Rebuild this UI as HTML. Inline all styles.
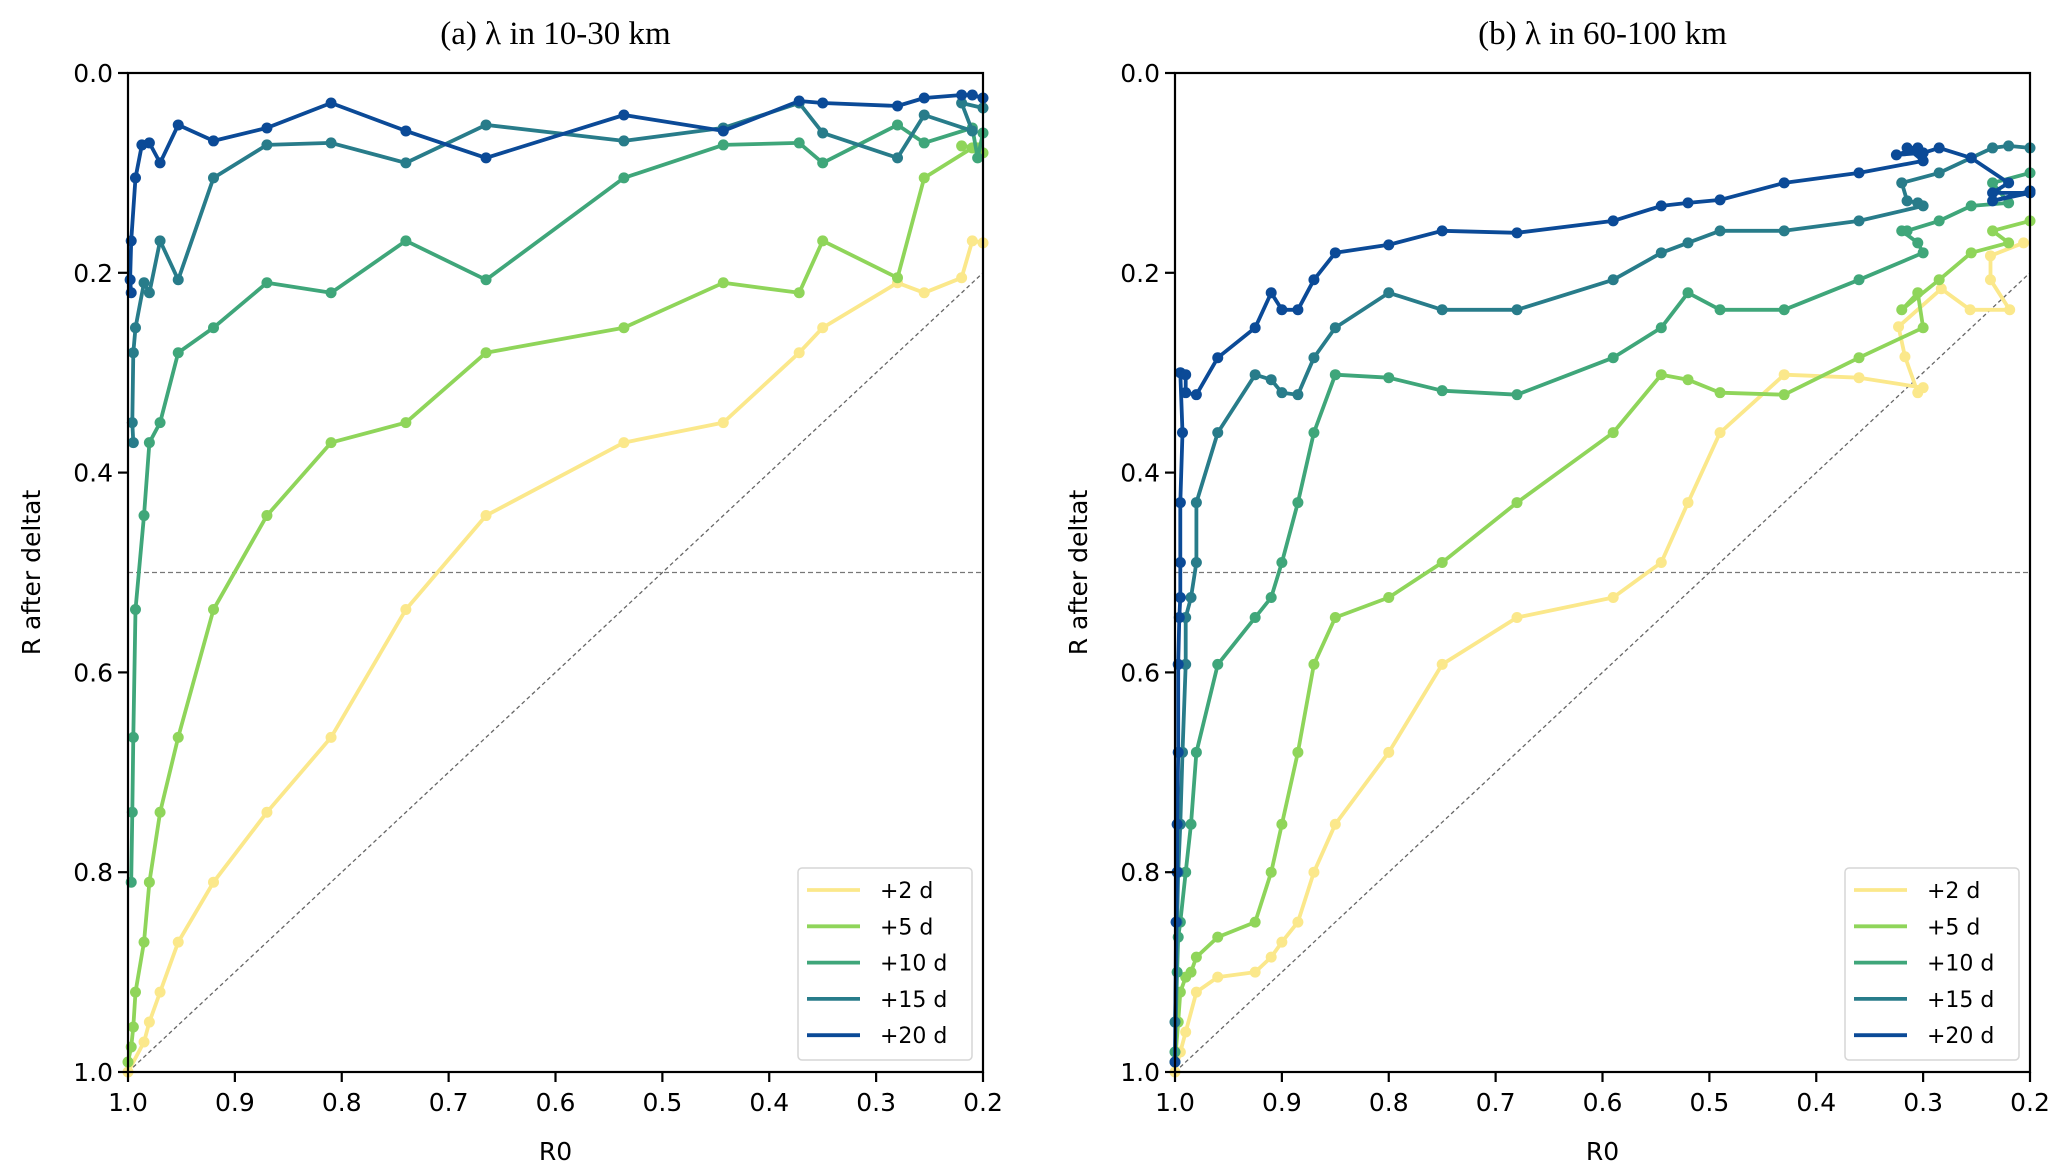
<!DOCTYPE html>
<html><head><meta charset="utf-8"><style>
html,body{margin:0;padding:0;background:#fff;}
svg{display:block;font-family:"DejaVu Sans","Liberation Sans",sans-serif;}
</style></head><body>
<svg id="chart" width="2067" height="1176" viewBox="0 0 2067 1176" xmlns="http://www.w3.org/2000/svg"></svg>
<script>
const seriesNames = ["+2 d","+5 d","+10 d","+15 d","+20 d"];
const xTicks = [1.0,0.9,0.8,0.7,0.6,0.5,0.4,0.3,0.2];
const yTicks = [0.0,0.2,0.4,0.6,0.8,1.0];
const panelTitles = ["(a) \u03bb in 10-30 km","(b) \u03bb in 60-100 km"];
// panel a
const a2 = [[1.0,1.0],[0.985,0.97],[0.98,0.95],[0.97,0.92],[0.953,0.87],[0.92,0.81],[0.87,0.74],[0.81,0.665],[0.74,0.537],[0.665,0.443],[0.536,0.37],[0.443,0.35],[0.372,0.28],[0.35,0.255],[0.28,0.21],[0.255,0.22],[0.22,0.205],[0.21,0.168],[0.2,0.17]];
const a5 = [[1.0,0.99],[0.997,0.975],[0.995,0.955],[0.993,0.92],[0.985,0.87],[0.98,0.81],[0.97,0.74],[0.953,0.665],[0.92,0.537],[0.87,0.443],[0.81,0.37],[0.74,0.35],[0.665,0.28],[0.536,0.255],[0.443,0.21],[0.372,0.22],[0.35,0.168],[0.28,0.205],[0.255,0.105],[0.21,0.075],[0.22,0.073],[0.205,0.075],[0.2,0.08]];
const a10 = [[0.997,0.81],[0.996,0.74],[0.995,0.665],[0.993,0.537],[0.985,0.443],[0.98,0.37],[0.97,0.35],[0.953,0.28],[0.92,0.255],[0.87,0.21],[0.81,0.22],[0.74,0.168],[0.665,0.207],[0.536,0.105],[0.443,0.072],[0.372,0.07],[0.35,0.09],[0.28,0.052],[0.255,0.07],[0.21,0.055],[0.205,0.085],[0.2,0.06]];
const a15 = [[0.995,0.37],[0.996,0.35],[0.995,0.28],[0.993,0.255],[0.985,0.21],[0.98,0.22],[0.97,0.168],[0.953,0.207],[0.92,0.105],[0.87,0.072],[0.81,0.07],[0.74,0.09],[0.665,0.052],[0.536,0.068],[0.443,0.055],[0.372,0.03],[0.35,0.06],[0.28,0.085],[0.255,0.042],[0.21,0.058],[0.22,0.03],[0.2,0.035]];
const a20 = [[0.997,0.22],[0.998,0.207],[0.997,0.168],[0.993,0.105],[0.987,0.072],[0.98,0.07],[0.97,0.09],[0.953,0.052],[0.92,0.068],[0.87,0.055],[0.81,0.03],[0.74,0.058],[0.665,0.085],[0.536,0.042],[0.443,0.058],[0.372,0.028],[0.35,0.03],[0.28,0.033],[0.255,0.025],[0.22,0.022],[0.21,0.022],[0.2,0.025]];
// panel b
const b2 = [[1.0,1.0],[0.995,0.98],[0.99,0.96],[0.98,0.92],[0.96,0.905],[0.925,0.9],[0.91,0.885],[0.9,0.87],[0.885,0.85],[0.87,0.8],[0.85,0.752],[0.8,0.68],[0.75,0.592],[0.68,0.545],[0.59,0.525],[0.545,0.49],[0.52,0.43],[0.49,0.36],[0.43,0.302],[0.36,0.305],[0.3,0.315],[0.305,0.32],[0.317,0.284],[0.323,0.254],[0.283,0.216],[0.256,0.237],[0.219,0.237],[0.237,0.207],[0.237,0.183],[0.206,0.17]];
const b5 = [[1.0,0.99],[0.997,0.95],[0.995,0.92],[0.99,0.905],[0.985,0.9],[0.98,0.885],[0.96,0.865],[0.925,0.85],[0.91,0.8],[0.9,0.752],[0.885,0.68],[0.87,0.592],[0.85,0.545],[0.8,0.525],[0.75,0.49],[0.68,0.43],[0.59,0.36],[0.545,0.302],[0.52,0.307],[0.49,0.32],[0.43,0.322],[0.36,0.285],[0.3,0.255],[0.305,0.22],[0.32,0.237],[0.285,0.207],[0.255,0.18],[0.22,0.17],[0.235,0.158],[0.2,0.148]];
const b10 = [[1.0,0.98],[0.998,0.9],[0.997,0.865],[0.995,0.85],[0.99,0.8],[0.985,0.752],[0.98,0.68],[0.96,0.592],[0.925,0.545],[0.91,0.525],[0.9,0.49],[0.885,0.43],[0.87,0.36],[0.85,0.302],[0.8,0.305],[0.75,0.318],[0.68,0.322],[0.59,0.285],[0.545,0.255],[0.52,0.22],[0.49,0.237],[0.43,0.237],[0.36,0.207],[0.3,0.18],[0.305,0.17],[0.32,0.158],[0.315,0.158],[0.285,0.148],[0.255,0.133],[0.22,0.13],[0.235,0.11],[0.2,0.1]];
const b15 = [[1.0,0.95],[0.998,0.85],[0.997,0.8],[0.995,0.752],[0.993,0.68],[0.99,0.592],[0.99,0.545],[0.985,0.525],[0.98,0.49],[0.98,0.43],[0.96,0.36],[0.925,0.302],[0.91,0.307],[0.9,0.32],[0.885,0.322],[0.87,0.285],[0.85,0.255],[0.8,0.22],[0.75,0.237],[0.68,0.237],[0.59,0.207],[0.545,0.18],[0.52,0.17],[0.49,0.158],[0.43,0.158],[0.36,0.148],[0.3,0.133],[0.305,0.13],[0.315,0.128],[0.32,0.11],[0.285,0.1],[0.255,0.085],[0.235,0.075],[0.22,0.073],[0.2,0.075]];
const b20 = [[1.0,0.99],[0.999,0.85],[0.998,0.8],[0.998,0.752],[0.997,0.68],[0.997,0.592],[0.996,0.545],[0.995,0.525],[0.995,0.49],[0.995,0.43],[0.993,0.36],[0.995,0.3],[0.99,0.302],[0.99,0.32],[0.98,0.322],[0.96,0.285],[0.925,0.255],[0.91,0.22],[0.9,0.237],[0.885,0.237],[0.87,0.207],[0.85,0.18],[0.8,0.172],[0.75,0.158],[0.68,0.16],[0.59,0.148],[0.545,0.133],[0.52,0.13],[0.49,0.127],[0.43,0.11],[0.36,0.1],[0.3,0.088],[0.315,0.075],[0.305,0.075],[0.325,0.082],[0.3,0.08],[0.285,0.075],[0.255,0.085],[0.22,0.11],[0.235,0.12],[0.2,0.12],[0.235,0.128],[0.2,0.118]];

const colors = ["#fbe88b","#8fd55a","#3fa67a","#287c8a","#0b4a97"];
const panels = [
  {x0:128,x1:983,y0:73,y1:1072,data:[a2,a5,a10,a15,a20],legX:798},
  {x0:1175,x1:2030,y0:73,y1:1072,data:[b2,b5,b10,b15,b20],legX:1845}
];
const NS="http://www.w3.org/2000/svg";
const svg=document.getElementById('chart');
function mk(tag,attrs,parent){const e=document.createElementNS(NS,tag);for(const k in attrs)e.setAttribute(k,attrs[k]);(parent||svg).appendChild(e);return e;}

panels.forEach((p,pi)=>{
  const g=mk('g',{});
  
  
  const sx=v=>p.x0+(1.0-v)/0.8*(p.x1-p.x0);
  const sy=v=>p.y0+v*(p.y1-p.y0);
  const t=mk('text',{x:(p.x0+p.x1)/2,y:44,'text-anchor':'middle','font-size':33,'font-family':'"Liberation Serif",serif',fill:'#000'},g);
  t.textContent=panelTitles[pi];
  
  
  const h=mk('line',{x1:p.x0,x2:p.x1,y1:sy(0.5),y2:sy(0.5),stroke:'#777','stroke-width':1.3,'stroke-dasharray':'5,3'},g);
  
  
  const d=mk('line',{x1:sx(1.0),y1:sy(1.0),x2:sx(0.2),y2:sy(0.2),stroke:'#666','stroke-width':1.3,'stroke-dasharray':'4,3'},g);
  
  
  p.data.forEach((arr,si)=>{
    const sg=mk('g',{},g);
    
    
    const pts=arr.map(q=>sx(q[0]).toFixed(1)+','+sy(q[1]).toFixed(1)).join(' ');
    const pl=mk('polyline',{points:pts,fill:'none',stroke:colors[si],'stroke-width':3.8,'stroke-linejoin':'round'},sg);
    
    
    arr.forEach(q=>{
      const c=mk('circle',{cx:sx(q[0]),cy:sy(q[1]),r:5.5,fill:colors[si]},sg);
      
      
    });
  });
  const fr=mk('rect',{x:p.x0,y:p.y0,width:p.x1-p.x0,height:p.y1-p.y0,fill:'none',stroke:'#000','stroke-width':2.2},g);
  
  
  xTicks.forEach(v=>{
    mk('line',{x1:sx(v),x2:sx(v),y1:p.y1,y2:p.y1+10,stroke:'#000','stroke-width':2.2},g);
    const tl=mk('text',{x:sx(v),y:p.y1+39,'text-anchor':'middle','font-size':25,fill:'#000'},g);
    tl.textContent=v.toFixed(1);
    
    
  });
  yTicks.forEach(v=>{
    mk('line',{x1:p.x0-10,x2:p.x0,y1:sy(v),y2:sy(v),stroke:'#000','stroke-width':2.2},g);
    const tl=mk('text',{x:p.x0-15,y:sy(v)+9,'text-anchor':'end','font-size':25,fill:'#000'},g);
    tl.textContent=v.toFixed(1);
    
    
  });
  const xl=mk('text',{x:(p.x0+p.x1)/2,y:1160,'text-anchor':'middle','font-size':25,fill:'#000'},g);
  xl.textContent='R0';
  
  
  const yl=mk('text',{x:0,y:0,'text-anchor':'middle','font-size':25,fill:'#000',transform:'translate('+(p.x0-88)+','+((p.y0+p.y1)/2)+') rotate(-90)'},g);
  yl.textContent='R after deltat';
  
  
  const lg=mk('g',{},g);
  
  
  mk('rect',{x:p.legX,y:868,width:174,height:192,rx:4,fill:'#fff','fill-opacity':0.9,stroke:'#d6d6d6','stroke-width':1.5},lg);
  seriesNames.forEach((n,si)=>{
    const yy=890+si*36.3;
    const e=mk('g',{},lg);
    
    
    mk('line',{x1:p.legX+9,x2:p.legX+62,y1:yy,y2:yy,stroke:colors[si],'stroke-width':3.8},e);
    const tx=mk('text',{x:p.legX+82,y:yy+8,'font-size':22,fill:'#000'},e);
    tx.textContent=n;
  });
});
</script>
</body></html>
